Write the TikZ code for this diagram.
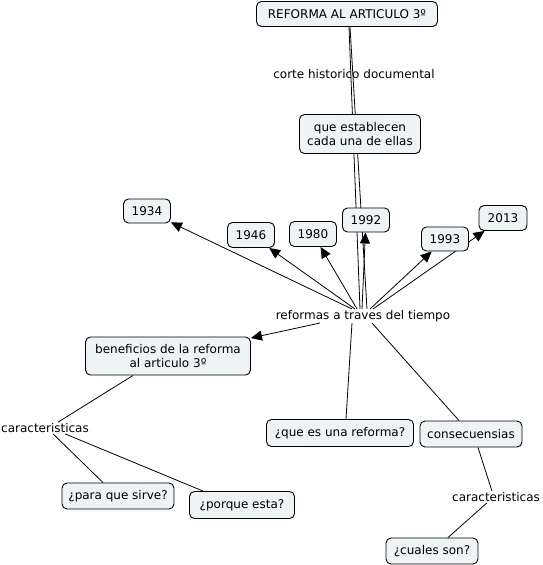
\documentclass[tikz,border=0pt]{standalone}
\usepackage{fontspec}
\setmainfont{DejaVu Sans}
\usetikzlibrary{arrows.meta,backgrounds}
\definecolor{fondocaja}{RGB}{238,243,245}
\begin{document}
\begin{tikzpicture}[x=1pt, y=-1pt,
  font=\fontsize{12}{14}\selectfont,
  caja/.style={draw=black, line width=0.9pt, fill=fondocaja, rounded corners=5pt, inner sep=2pt, align=center},
  frase/.style={inner sep=1pt},
  enlace/.style={line width=0.8pt},
  flecha/.style={enlace, -{Triangle[length=11pt,width=10pt]}}]
\useasboundingbox (0,0) rectangle (542,565);
% conceptos
\node[caja, minimum width=181, minimum height=25] (ref) at (347,14) {REFORMA AL ARTICULO 3º};
\node[frase] (corte) at (354,74) {corte historico documental};
\node[caja, minimum width=121, minimum height=39] (estab) at (360,134) {que establecen\\cada una de ellas};
\node[frase] (reformas) at (363,316) {reformas a traves del tiempo};
% años
\node[caja, minimum width=47, minimum height=24] (a1934) at (147,211) {1934};
\node[caja, minimum width=47, minimum height=25] (a1946) at (251,235) {1946};
\node[caja, minimum width=47, minimum height=25] (a1980) at (313,234) {1980};
\node[caja, minimum width=47, minimum height=24] (a1992) at (366,220) {1992};
\node[caja, minimum width=47, minimum height=24] (a1993) at (445,239) {1993};
\node[caja, minimum width=48, minimum height=25] (a2013) at (503,218) {2013};
% ramas de abajo
\node[caja, minimum width=165, minimum height=38] (benef) at (168,356) {beneficios de la reforma\\al articulo 3º};
\node[frase] (caractL) at (45,428) {caracteristicas};
\node[caja, minimum width=112, minimum height=26] (para) at (118,496) {¿para que sirve?};
\node[caja, minimum width=105, minimum height=27] (porque) at (242,505) {¿porque esta?};
\node[caja, minimum width=147, minimum height=27] (quees) at (340,433) {¿que es una reforma?};
\node[caja, minimum width=102, minimum height=26] (consec) at (471,434) {consecuensias};
\node[frase] (caractR) at (496,497) {caracteristicas};
\node[caja, minimum width=92, minimum height=26] (cuales) at (432,551) {¿cuales son?};
% enlaces
\begin{scope}[on background layer]
\draw[enlace] ([xshift=2]ref.south) -- ([xshift=-3]reformas.north);
\draw[enlace] ([xshift=3]ref.south) -- ([xshift=4]reformas.north);
\draw[flecha] ([xshift=-11]reformas.north) -- (a1934);
\draw[flecha] ([xshift=-8]reformas.north) -- (a1946);
\draw[flecha] ([xshift=-6]reformas.north) -- (a1980);
\draw[flecha] ([xshift=-1]reformas.north) -- (a1992);
\draw[flecha] ([xshift=7]reformas.north) -- (a1993);
\draw[flecha] ([xshift=10]reformas.north) -- (a2013);
\draw[flecha] ([xshift=-43]reformas.south) -- (benef);
\draw[enlace] ([xshift=-11]reformas.south) -- ([xshift=6]quees.north);
\draw[enlace] ([xshift=9]reformas.south) -- ([xshift=-12]consec.north);
\draw[enlace] ([xshift=-35]benef.south) -- ([xshift=13]caractL.north);
\draw[enlace] ([xshift=8]caractL.south) -- ([xshift=-15]para.north);
\draw[enlace] ([xshift=20]caractL.south) -- ([xshift=-39]porque.north);
\draw[enlace] ([xshift=7]consec.south) -- ([xshift=-4]caractR.north);
\draw[enlace] ([xshift=-9]caractR.south) -- ([xshift=16]cuales.north);
\end{scope}
\end{tikzpicture}
\end{document}
